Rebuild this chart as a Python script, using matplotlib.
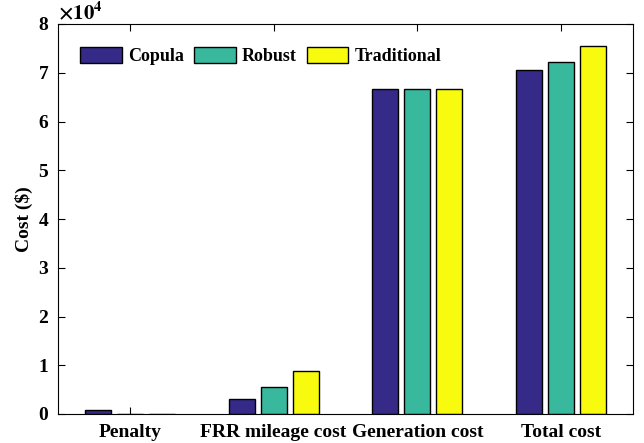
import matplotlib
matplotlib.use("Agg")
import matplotlib.pyplot as plt
import numpy as np

categories = ["Penalty", "FRR mileage cost", "Generation cost", "Total cost"]
series_names = ["Copula", "Robust", "Traditional"]
copula = [800, 3000, 66600, 70600]
robust = [30, 5500, 66700, 72200]
traditional = [30, 8800, 66700, 75500]
colors = ["#352a87", "#38b99e", "#f9fb0e"]

plt.rcParams["font.family"] = ["Liberation Serif", "DejaVu Serif"]
plt.rcParams["font.weight"] = "bold"
plt.rcParams["mathtext.fontset"] = "stix"

fig = plt.figure(figsize=(6.44, 4.43), dpi=100)
ax = fig.add_axes([58 / 644, 29 / 443, 575 / 644, 390 / 443])

x = np.arange(1, len(categories) + 1)
offset = 0.223
width = 0.18
for i, (vals, name, c) in enumerate(zip([copula, robust, traditional], series_names, colors)):
    ax.bar(x + (i - 1) * offset, np.array(vals) / 1e4, width=width, color=c,
           edgecolor="black", linewidth=1.0, label=name, zorder=2)

ax.set_xlim(0.5, 4.5)
ax.set_ylim(0, 8)
ax.set_xticks(x)
ax.set_xticklabels(categories, fontsize=14, fontweight="bold")
ax.set_yticks(range(0, 9))
ax.set_yticklabels([str(v) for v in range(0, 9)], fontsize=14, fontweight="bold")
ax.tick_params(direction="in", top=True, right=True, length=5, width=0.8, pad=7)
ax.set_ylabel("Cost (\\$)", fontsize=14, fontweight="bold", labelpad=4)
ax.text(0.0, 1.0, r"$\times10^{4}$", transform=ax.transAxes, fontsize=15,
        ha="left", va="bottom")
for s in ax.spines.values():
    s.set_linewidth(0.8)

ax.legend(loc="upper left", ncol=3, frameon=False,
          bbox_to_anchor=(0.02, 0.97), handlelength=2.3, handleheight=1.0,
          columnspacing=0.55, handletextpad=0.35, borderaxespad=0.2,
          prop={"weight": "bold", "size": 13})

fig.savefig("out.png", dpi=100)
